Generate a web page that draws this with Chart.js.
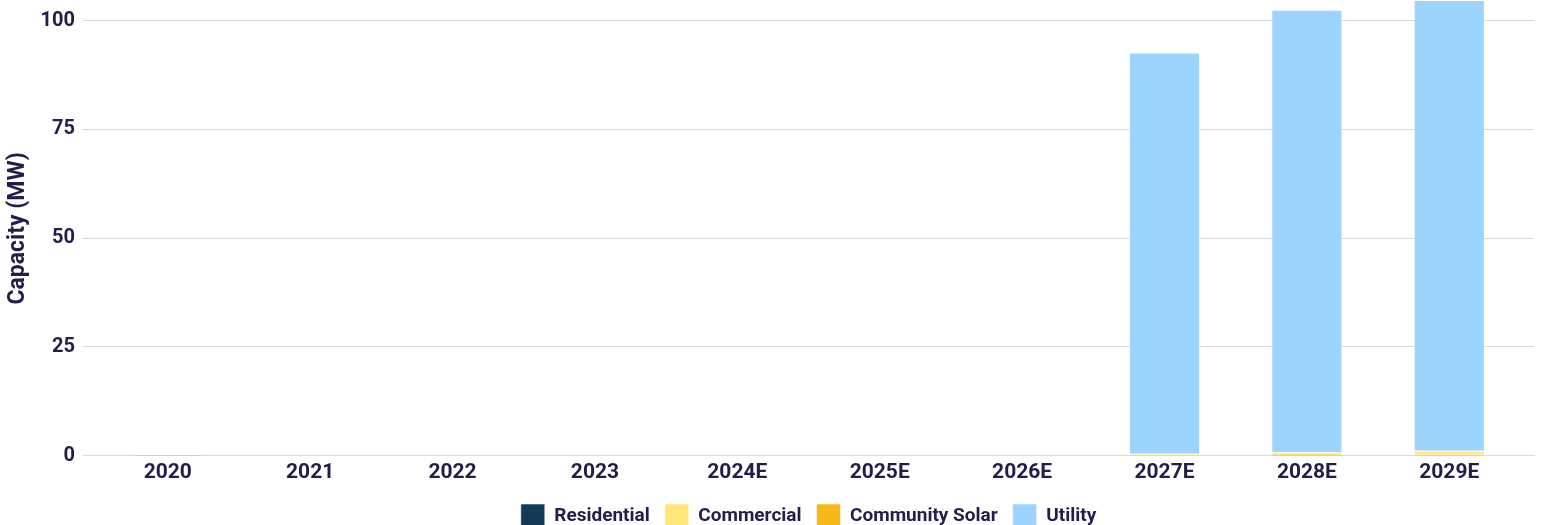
<!DOCTYPE html>
<html>
<head>
<meta charset="utf-8">
<script src="https://cdn.jsdelivr.net/npm/chart.js@4.4.1/dist/chart.umd.min.js"></script>
<style>
html,body{margin:0;padding:0;background:#fff;overflow:hidden;}
#wrap{position:absolute;left:0;top:-19px;width:1543px;height:557px;}
</style>
</head>
<body>
<div id="wrap"><canvas id="c"></canvas></div>
<script>
const categories = ["2020","2021","2022","2023","2024E","2025E","2026E","2027E","2028E","2029E"];
const residential    = [0.05, 0.12, 0.10, 0.15, 0.10, 0.10, 0.10, 0.15, 0.20, 0.25];
const commercial     = [0.02, 0.15, 0.15, 0.03, 0.20, 0.20, 0.20, 0.30, 0.60, 0.90];
const communitySolar = [0, 0, 0, 0, 0, 0, 0, 0, 0, 0];
const utility        = [0, 0, 0, 0, 0, 0, 0, 92.2, 101.7, 110];
const yTicks = [0, 25, 50, 75, 100];

const textColor = '#211d4c';
Chart.defaults.font.family = 'Roboto';
Chart.defaults.font.weight = 'bold';
Chart.defaults.font.size = 20;
Chart.defaults.color = textColor;

function ds(label, data, color){
  return {
    label, backgroundColor: color, borderColor: 'rgba(255,255,255,0.55)', borderWidth: 1,
    data: data.map((v,i)=>({x:i, y:v})),
    categoryPercentage: 1, barPercentage: 0.5
  };
}

new Chart(document.getElementById('c'), {
  type: 'bar',
  data: {
    datasets: [
      ds('Residential', residential, '#133a57'),
      ds('Commercial', commercial, '#ffe57a'),
      ds('Community Solar', communitySolar, '#f8b81c'),
      ds('Utility', utility, '#9dd4fe')
    ]
  },
  options: {
    responsive: true,
    maintainAspectRatio: false,
    animation: false,
    layout: { padding: { left: 4, right: 9, top: 0, bottom: 0 } },
    plugins: {
      legend: {
        position: 'bottom',
        fullSize: false,
        labels: { boxWidth: 24, boxHeight: 24, padding: 15, color: textColor,
                  font: { size: 19, weight: 'bold', family: 'Roboto' } }
      },
      tooltip: { enabled: false }
    },
    scales: {
      x: {
        type: 'linear',
        stacked: true,
        offset: false,
        min: -0.595, max: 9.595,
        afterBuildTicks: (s) => { s.ticks = categories.map((c,i)=>({value:i})); },
        ticks: { callback: (v) => categories[v], padding: 4, autoSkip: false, maxRotation: 0,
                 font: { size: 21, weight: 'bold', family: 'Roboto' } },
        grid: { display: false, drawTicks: false },
        border: { display: true, color: '#d9d9d9', width: 1 }
      },
      y: {
        stacked: true,
        min: 0, max: 104.5,
        afterBuildTicks: (s) => { s.ticks = yTicks.map(v=>({value:v})); },
        ticks: { padding: 8 },
        grid: { color: '#d9d9d9', drawTicks: false, lineWidth: 1 },
        border: { display: false },
        title: { display: true, text: 'Capacity (MW)', color: textColor,
                 font: { size: 23, weight: 'bold', family: 'Roboto' }, padding: { top: 0, bottom: 1 } }
      }
    }
  }
});
</script>
</body>
</html>
